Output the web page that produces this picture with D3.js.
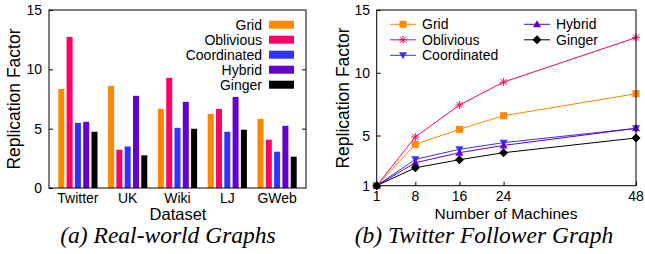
<!DOCTYPE html>
<html>
<head>
<meta charset="utf-8">
<script src="https://cdn.jsdelivr.net/npm/d3@7"></script>
<style>
  body { margin: 0; background: #fff; }
  text { font-family: "Liberation Sans", Arial, sans-serif; }
  .cap { font-family: "Liberation Serif", "Times New Roman", serif; font-style: italic; }
</style>
</head>
<body>
<div id="chart"></div>
<script>
// data
const datasets = ['Twitter', 'UK', 'Wiki', 'LJ', 'GWeb'];
const series = ['Grid', 'Oblivious', 'Coordinated', 'Hybrid', 'Ginger'];
const colors = ['#ff8800', '#ff0066', '#3333ff', '#6600cc', '#000000'];
// bar values per series, in dataset order
const gridBars        = [8.35, 8.61, 6.67, 6.25, 5.83];
const obliviousBars   = [12.73, 3.22, 9.28, 6.67, 4.07];
const coordinatedBars = [5.49, 3.50, 5.07, 4.74, 3.06];
const hybridBars      = [5.58, 7.77, 7.26, 7.68, 5.24];
const gingerBars      = [4.74, 2.75, 4.99, 4.91, 2.64];
const barValues = [gridBars, obliviousBars, coordinatedBars, hybridBars, gingerBars];

// twitter follower graph, by machine count
const machines = [1, 8, 16, 24, 48];
const gridLine        = [1, 4.29, 5.49, 6.58, 8.33];
const obliviousLine   = [1, 4.88, 7.43, 9.26, 12.8];
const coordinatedLine = [1, 3.10, 3.90, 4.43, 5.57];
const hybridLine      = [1, 2.83, 3.63, 4.21, 5.57];
const gingerLine      = [1, 2.43, 3.07, 3.63, 4.80];
const lineValues = [gridLine, obliviousLine, coordinatedLine, hybridLine, gingerLine];

const leftTicks = [0, 5, 10, 15];
const rightTicks = [1, 5, 10, 15];

const svg = d3.select('#chart').append('svg')
  .attr('width', 645).attr('height', 254);

// ---- (a) bars ----
const a = svg.append('g');
const ax = d3.scaleBand().domain(datasets).range([53, 302]);
const inner = d3.scalePoint().domain(series).range([-16.6, 16.6]);
const ay = d3.scaleLinear().domain([0, 15]).range([188, 10]);

datasets.forEach((ds, i) => {
  series.forEach((s, j) => {
    const v = barValues[j][i];
    a.append('rect')
      .attr('x', ax(ds) + ax.bandwidth() / 2 + inner(s) - 3)
      .attr('y', ay(v))
      .attr('width', 6)
      .attr('height', ay(0) - ay(v))
      .attr('fill', colors[j]);
  });
});

// y axis with inward ticks both sides
a.append('g').attr('transform', 'translate(49,0)')
  .call(d3.axisRight(ay).tickValues(leftTicks).tickSize(4).tickFormat(''))
  .call(g => g.select('.domain').remove());
a.append('g').attr('transform', 'translate(306,0)')
  .call(d3.axisLeft(ay).tickValues(leftTicks.slice(1, 3)).tickSize(4).tickFormat(''))
  .call(g => g.select('.domain').remove());
a.selectAll('text.ylab').data(leftTicks).enter().append('text')
  .attr('x', 42).attr('y', d => ay(d) + 5)
  .attr('text-anchor', 'end').attr('font-size', 14).text(d => d);
a.selectAll('text.xlab').data(datasets).enter().append('text')
  .attr('x', d => ax(d) + ax.bandwidth() / 2).attr('y', 203)
  .attr('text-anchor', 'middle').attr('font-size', 14).text(d => d);
a.append('rect').attr('x', 49).attr('y', 10).attr('width', 257).attr('height', 178)
  .attr('fill', 'none').attr('stroke', '#000');

// legend
series.forEach((s, j) => {
  const y = 24.7 + j * 15;
  a.append('text').attr('x', 262).attr('y', y + 5).attr('text-anchor', 'end')
    .attr('font-size', 14).text(s);
  a.append('rect').attr('x', 269).attr('y', y - 4).attr('width', 25).attr('height', 8)
    .attr('fill', colors[j]);
});

a.append('text').attr('transform', 'translate(20,99) rotate(-90)')
  .attr('text-anchor', 'middle').attr('font-size', 17.5).text('Replication Factor');
a.append('text').attr('x', 178).attr('y', 219.5).attr('text-anchor', 'middle')
  .attr('font-size', 16.5).text('Dataset');
a.append('text').attr('class', 'cap').attr('x', 168).attr('y', 243)
  .attr('text-anchor', 'middle').attr('font-size', 23.5).text('(a) Real-world Graphs');

// ---- (b) lines ----
const b = svg.append('g');
const bx = d3.scaleLinear().domain([1, 48]).range([376.7, 636]);
const by = d3.scaleLinear().domain([1, 15]).range([185.7, 10]);

b.append('g').attr('transform', 'translate(376.7,0)')
  .call(d3.axisRight(by).tickValues(rightTicks).tickSize(4).tickFormat(''))
  .call(g => g.select('.domain').remove());
b.append('g').attr('transform', 'translate(0,185.7)')
  .call(d3.axisTop(bx).tickValues(machines).tickSize(4).tickFormat(''))
  .call(g => g.select('.domain').remove());
b.selectAll('text.ylab').data(rightTicks).enter().append('text')
  .attr('x', 370).attr('y', d => by(d) + 5)
  .attr('text-anchor', 'end').attr('font-size', 14).text(d => d);
b.selectAll('text.xlab').data(machines).enter().append('text')
  .attr('x', d => bx(d)).attr('y', 201)
  .attr('text-anchor', 'middle').attr('font-size', 14).text(d => d);

function marker(g, type, x, y, color) {
  if (type === 0) {
    g.append('rect').attr('x', x - 3.5).attr('y', y - 3.5).attr('width', 7).attr('height', 7).attr('fill', color);
  } else if (type === 1) {
    const r = 4;
    g.append('path').attr('d', `M${x - r},${y}H${x + r}M${x},${y - r}V${y + r}M${x - 3},${y - 3}L${x + 3},${y + 3}M${x - 3},${y + 3}L${x + 3},${y - 3}`)
      .attr('stroke', color).attr('stroke-width', 1);
  } else if (type === 2) {
    g.append('path').attr('d', `M${x - 4},${y - 3}L${x + 4},${y - 3}L${x},${y + 4}Z`).attr('fill', color);
  } else if (type === 3) {
    g.append('path').attr('d', `M${x - 4},${y + 3}L${x + 4},${y + 3}L${x},${y - 4}Z`).attr('fill', color);
  } else {
    g.append('path').attr('d', `M${x},${y - 4.5}L${x + 4.5},${y}L${x},${y + 4.5}L${x - 4.5},${y}Z`).attr('fill', color);
  }
}

const line = d3.line().x((d, i) => bx(machines[i])).y(d => by(d));
lineValues.forEach((vals, j) => {
  b.append('path').datum(vals).attr('d', line)
    .attr('fill', 'none').attr('stroke', colors[j]).attr('stroke-width', 1);
});
lineValues.forEach((vals, j) => {
  vals.forEach((v, i) => marker(b, j, bx(machines[i]), by(v), colors[j]));
});

b.append('rect').attr('x', 376.7).attr('y', 10).attr('width', 259.3).attr('height', 175.7)
  .attr('fill', 'none').attr('stroke', '#000');

// legend, two columns
series.forEach((s, j) => {
  const col = j < 3 ? 0 : 1;
  const row = j < 3 ? j : j - 3;
  const x0 = col === 0 ? 390 : 524;
  const y = 24.3 + row * 15.5;
  b.append('line').attr('x1', x0).attr('x2', x0 + 26).attr('y1', y).attr('y2', y)
    .attr('stroke', colors[j]).attr('stroke-width', 1);
  marker(b, j, x0 + 13, y, colors[j]);
  b.append('text').attr('x', x0 + 32).attr('y', y + 5).attr('font-size', 14).text(s);
});

b.append('text').attr('transform', 'translate(349,98) rotate(-90)')
  .attr('text-anchor', 'middle').attr('font-size', 17.5).text('Replication Factor');
b.append('text').attr('x', 506).attr('y', 218.5).attr('text-anchor', 'middle')
  .attr('font-size', 15.5).text('Number of Machines');
b.append('text').attr('class', 'cap').attr('x', 484).attr('y', 243)
  .attr('text-anchor', 'middle').attr('font-size', 23.5).text('(b) Twitter Follower Graph');
</script>
</body>
</html>
